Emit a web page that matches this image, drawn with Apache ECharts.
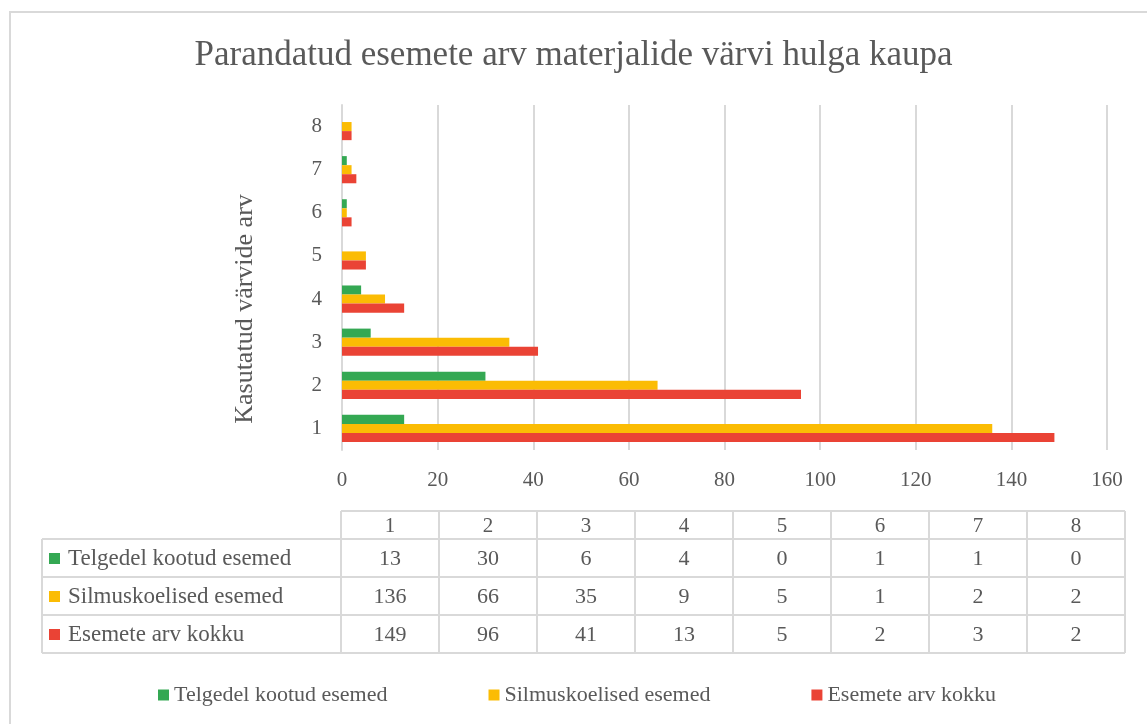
<!DOCTYPE html>
<html>
<head>
    <meta charset="UTF-8">
    <title>Parandatud esemete arv</title>
    <style>
        body { margin: 0; background: #fff; }
    </style>
</head>
<body>
<div id="main" style="width:1147px; height:724px;"></div>

<script type="text/javascript" src="https://cdn.jsdelivr.net/npm/echarts@6/dist/echarts.min.js"></script>
<script type="text/javascript">

    // andmed
    var categories = ['1', '2', '3', '4', '5', '6', '7', '8'];
    var seriesNames = ['Telgedel kootud esemed', 'Silmuskoelised esemed', 'Esemete arv kokku'];
    var telgedel = [13, 30, 6, 4, 0, 1, 1, 0];
    var silmus = [136, 66, 35, 9, 5, 1, 2, 2];
    var kokku = [149, 96, 41, 13, 5, 2, 3, 2];
    var xTicks = [0, 20, 40, 60, 80, 100, 120, 140, 160];

    var colors = ['#34a853', '#fbbc04', '#ea4335'];
    var font = '"Liberation Serif", "Times New Roman", serif';
    var textColor = '#595959';
    var lineColor = '#d9d9d9';

    var myChart = echarts.init(document.getElementById('main'));

    // andmetabel graafikuna
    var allRows = [telgedel, silmus, kokku];
    var tLeft = 42, tCol = 341, colW = 98, headTop = 511, headH = 28, rowH = 38;
    var tRight = tCol + colW * categories.length;
    var tBottom = headTop + headH + rowH * allRows.length;
    var gfx = [];

    // välimine raam
    gfx.push({ type: 'rect', shape: { x: 10, y: 12, width: 1150, height: 730 },
        style: { fill: null, stroke: lineColor, lineWidth: 2 }, silent: true });

    // y-telje nimi (reference has it a bit below the plot centre)
    gfx.push({ type: 'text', x: 245, y: 309, rotation: Math.PI / 2,
        style: { text: 'Kasutatud värvide arv', fill: textColor, font: '26px ' + font,
            align: 'center', verticalAlign: 'middle' } });

    function hline(x1, x2, y) {
        gfx.push({ type: 'line', shape: { x1: x1, y1: y, x2: x2, y2: y },
            style: { stroke: lineColor, lineWidth: 2 }, silent: true });
    }
    function vline(x, y1, y2) {
        gfx.push({ type: 'line', shape: { x1: x, y1: y1, x2: x, y2: y2 },
            style: { stroke: lineColor, lineWidth: 2 }, silent: true });
    }

    hline(tCol, tRight, headTop);
    for (var r = 0; r <= allRows.length; r++) {
        hline(tLeft, tRight, headTop + headH + r * rowH);
    }
    vline(tLeft, headTop + headH, tBottom);
    for (var c = 0; c <= categories.length; c++) {
        vline(tCol + c * colW, headTop, tBottom);
    }
    // päis
    categories.forEach(function (cat, i) {
        gfx.push({ type: 'text', x: tCol + i * colW + colW / 2, y: headTop + headH / 2 + 1,
            style: { text: cat, fill: textColor, font: '21px ' + font, align: 'center', verticalAlign: 'middle' } });
    });
    // read
    allRows.forEach(function (row, ri) {
        var cy = headTop + headH + ri * rowH + rowH / 2 + 1;
        gfx.push({ type: 'rect', shape: { x: 49, y: cy - 6, width: 11, height: 11 },
            style: { fill: colors[ri] } });
        gfx.push({ type: 'text', x: 68, y: cy,
            style: { text: seriesNames[ri], fill: textColor, font: '23px ' + font, align: 'left', verticalAlign: 'middle' } });
        row.forEach(function (v, i) {
            gfx.push({ type: 'text', x: tCol + i * colW + colW / 2, y: cy,
                style: { text: String(v), fill: textColor, font: '22px ' + font, align: 'center', verticalAlign: 'middle' } });
        });
    });

    var barValues = [telgedel, silmus, kokku];

    var option = {
        animation: false,
        backgroundColor: '#fff',
        title: {
            text: 'Parandatud esemete arv materjalide värvi hulga kaupa',
            left: 'center',
            top: 33,
            textStyle: { fontFamily: font, fontSize: 35, fontWeight: 'normal', color: textColor }
        },
        legend: {
            data: seriesNames,
            top: 679,
            left: 153,
            icon: 'rect',
            itemWidth: 11,
            itemHeight: 11,
            itemGap: 101,
            textStyle: { fontFamily: font, fontSize: 22, color: textColor }
        },
        grid: { left: 342, right: 40, top: 105, bottom: 274 },
        xAxis: {
            type: 'value',
            min: xTicks[0],
            max: xTicks[xTicks.length - 1],
            interval: 20,
            axisLine: { show: false },
            axisTick: { show: false },
            axisLabel: { fontFamily: font, fontSize: 21, color: textColor, margin: 20 },
            splitLine: { lineStyle: { color: lineColor, width: 2 } }
        },
        yAxis: {
            type: 'category',
            data: categories,
            axisLine: { lineStyle: { color: lineColor, width: 2 } },
            axisTick: { show: false },
            axisLabel: { fontFamily: font, fontSize: 21, color: textColor, margin: 20 }
        },
        series: seriesNames.map(function (name, i) {
            return {
                name: name,
                type: 'bar',
                data: barValues[i],
                itemStyle: { color: colors[i] },
                barGap: '0%',
                barCategoryGap: '37%'
            };
        }),
        graphic: gfx
    };

    myChart.setOption(option);

</script>
</body>
</html>
